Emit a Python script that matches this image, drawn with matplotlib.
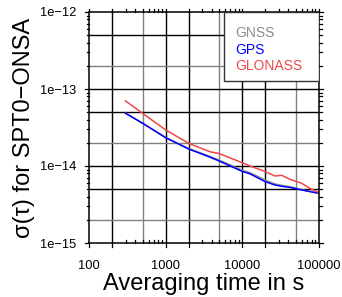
import numpy as np
import matplotlib
matplotlib.use("Agg")
import matplotlib.pyplot as plt
from matplotlib.patches import Rectangle
import matplotlib.transforms as mtransforms

plt.rcParams['font.family'] = ['Liberation Sans', 'DejaVu Sans']

# ---- data ----
tau = [300, 500, 1000, 2000, 3800, 5000, 10000, 12600, 20000, 26700, 32600, 41800, 59400, 76200, 100000]
gps = [4.83e-14, 3.59e-14, 2.33e-14, 1.66e-14, 1.30e-14, 1.16e-14, 8.5e-15, 7.9e-15,
       6.25e-15, 5.66e-15, 5.45e-15, 5.28e-15, 4.88e-15, 4.65e-15, 4.42e-15]
glonass = [6.98e-14, 4.83e-14, 2.94e-14, 1.97e-14, 1.53e-14, 1.45e-14, 1.10e-14, 1.0e-14,
           8.44e-15, 7.41e-15, 7.57e-15, 6.71e-15, 5.96e-15, 5.13e-15, 4.50e-15]
gnss = [4.85e-14, 3.60e-14, 2.35e-14, 1.69e-14, 1.33e-14, 1.19e-14, 8.8e-15, 8.2e-15,
        6.55e-15, 5.85e-15, 5.6e-15, 5.38e-15, 4.93e-15, 4.67e-15, 4.43e-15]
series_names = ["GNSS", "GPS", "GLONASS"]
series_colors = ["#8c8c8c", "#0000ff", "#f04848"]
xticks = [100, 1000, 10000, 100000]
xticklabels = ["100", "1000", "10000", "100000"]
yticks = [1e-15, 1e-14, 1e-13, 1e-12]
yticklabels = ["1e\u221215", "1e\u221214", "1e\u221213", "1e\u221212"]
xlabel = "Averaging time in s"
ylabel = "\u03c3(\u03c4) for SPT0\u2212ONSA"

fig = plt.figure(figsize=(3.42, 2.97), dpi=100)
ax = fig.add_axes([89/342, 1-243/297, 230/342, 231/297])
ax.set_xscale('log')
ax.set_yscale('log')
ax.set_xlim(100, 1e5)
ax.set_ylim(1e-15, 1e-12)

# grid
for d in [100, 1000, 10000]:
    for m, c in [(1, 'black'), (2, 'black'), (5, '#808080')]:
        v = d * m
        if 100 < v < 1e5:
            ax.axvline(v, color=c, lw=1.0, zorder=1)
for d in [1e-15, 1e-14, 1e-13]:
    for m, c in [(1, 'black'), (2, '#808080'), (5, 'black')]:
        v = d * m
        if 1e-15 < v < 1e-12:
            ax.axhline(v, color=c, lw=1.0, zorder=1)

for vals, col, z in zip([gnss, gps, glonass], series_colors, [3, 4, 5]):
    ax.plot(tau, vals, color=col, lw=1.1, zorder=z)

# ticks drawn manually
ax.tick_params(which='both', length=0)
ax.set_xticks(xticks)
ax.set_xticklabels(xticklabels, fontsize=9.3)
ax.set_yticks(yticks)
ax.set_yticklabels(yticklabels, fontsize=9.3)
ax.minorticks_off()
ax.tick_params(axis='x', pad=12)
ax.tick_params(axis='y', pad=9)

px = 1/ (231)  # axes fraction per pixel vertically
pxx = 1 / 230
tx = mtransforms.blended_transform_factory(ax.transData, ax.transAxes)
ty = mtransforms.blended_transform_factory(ax.transAxes, ax.transData)
kw = dict(color='black', lw=0.9, clip_on=False, zorder=6)
for d in [100, 1000, 10000, 100000]:
    for m in range(1, 10):
        v = d * m
        if v > 1e5:
            continue
        # top: outward
        ax.plot([v, v], [1, 1 + 3*px], transform=tx, **kw)
        if m in (1, 2):
            ax.plot([v, v], [0, -4*px], transform=tx, **kw)
        else:
            ax.plot([v, v], [0, 3*px], transform=tx, **kw)
for d in [1e-15, 1e-14, 1e-13, 1e-12]:
    for m in range(1, 10):
        v = d * m
        if v > 1e-12 * 1.001:
            continue
        L = 4 if m == 1 else 2.5
        ax.plot([0, -L*pxx], [v, v], transform=ty, **kw)
        ax.plot([1, 1 + L*pxx], [v, v], transform=ty, **kw)

for s in ax.spines.values():
    s.set_linewidth(1.1)
    s.set_zorder(7)

# legend box
ax.add_patch(Rectangle((0.587, 0.701), 0.413, 0.299, transform=ax.transAxes,
                       facecolor='white', edgecolor='#333333', lw=1.0, zorder=8))
for name, col, yb in zip(series_names, series_colors, [0.890, 0.818, 0.749]):
    ax.text(0.635, yb, name, color=col, fontsize=10, va='baseline', ha='left',
            transform=ax.transAxes, zorder=9)

ax.set_xlabel(xlabel, fontsize=17, labelpad=1)
ax.set_ylabel(ylabel, fontsize=17, labelpad=4)

fig.savefig("out.png", dpi=100)
